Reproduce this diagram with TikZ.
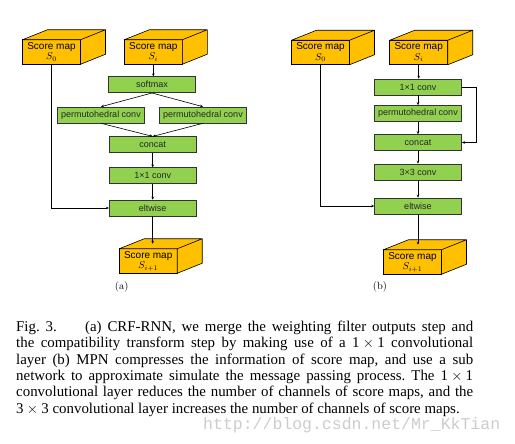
\documentclass[tikz,border=0pt]{standalone}
\usepackage{fontspec}
\setsansfont{Liberation Sans}
\newfontfamily\capfont{Liberation Serif}
\newfontfamily\markfont{Liberation Mono}
\usepackage{tikz}
\usetikzlibrary{arrows.meta}
\definecolor{mapfill}{HTML}{FFC000}
\definecolor{layerfill}{HTML}{92D050}
\newcommand{\scoremap}[3]{%
  \node[smap] (#1) at (#2) {Score map\\$S_{#3}$};
  \draw[mapface] (#1.north west) -- ++(25,-10) -- ++(58,0) -- ++(0,24.5)
    -- (#1.south east) -- (#1.north east) -- cycle (#1.north east) -- ++(25,-10);
  \path (#1.north) ++(12.5,-5) coordinate (#1-top);
}
\newcommand{\tms}{\hspace{0.22em}$\times$\hspace{0.22em}}

\begin{document}
\begin{tikzpicture}[x=1pt,y=-1pt,font=\sffamily\fontsize{9}{10}\selectfont]
  \tikzstyle{layer}=[draw=black!80,line width=0.6pt,fill=layerfill,minimum width=87pt,
    minimum height=16pt,inner sep=0pt,text=black!85]
  \tikzstyle{smap}=[draw=black,line width=0.6pt,fill=mapfill,minimum width=58pt,
    minimum height=24.5pt,inner sep=0pt,outer sep=0pt,align=center,
    font=\sffamily\fontsize{10}{10.5}\selectfont]
  \tikzstyle{mapface}=[draw=black,fill=mapfill,line width=0.6pt,line join=round]
  \tikzstyle{flow}=[-{Stealth[length=3pt,width=2.6pt]},line width=0.6pt]
  \tikzstyle{sub}=[font=\rmfamily\fontsize{10.5}{12}\selectfont]
  \useasboundingbox (0,0) rectangle (515,444);

  % (a) CRF-RNN
  \scoremap{sa0}{51.5,52}{0}
  \scoremap{sai}{153.3,52}{i}
  \node[layer] (soft) at (152,84.7) {softmax};
  \node[layer] (permA) at (101,115) {permutohedral conv};
  \node[layer] (permB) at (203,115) {permutohedral conv};
  \node[layer] (catA) at (152.7,144.7) {concat};
  \node[layer] (convA) at (152.7,175.8) {1\texttimes1 conv};
  \node[layer] (eltA) at (152.7,208) {eltwise};
  \scoremap{san}{148.2,261}{i+1}
  \node[sub] (laba) at (121.7,287) {(a)};
  \draw[flow] (sai.south) -- (sai.south |- soft.north);
  \draw[flow] (soft.south) -- (permA.north);
  \draw[flow] (soft.south) -- (permB.north);
  \draw[flow] (permA.south) -- (catA.north);
  \draw[flow] (permB.south) -- (catA.north);
  \draw[flow] (catA) -- (convA);
  \draw[flow] (convA) -- (eltA);
  \draw[flow] (sa0.south) |- (eltA.west);
  \draw[flow] (eltA.south) -- (eltA.south |- san-top);

  % (b) MPN
  \scoremap{sb0}{320.5,52.5}{0}
  \scoremap{sbi}{418.7,52.5}{i}
  \node[layer] (convB) at (418,87) {1\texttimes1 conv};
  \node[layer] (permC) at (418,113.5) {permutohedral conv};
  \node[layer] (catB) at (418,142.5) {concat};
  \node[layer] (conv3) at (418,172) {3\texttimes3 conv};
  \node[layer] (eltB) at (418,206) {eltwise};
  \scoremap{sbn}{412.5,262}{i+1}
  \node[sub] (labb) at (380,287) {(b)};
  \draw[flow] (sbi.south) -- (sbi.south |- convB.north);
  \draw[flow] (convB) -- (permC);
  \draw[flow] (permC) -- (catB);
  \draw[flow] (catB) -- (conv3);
  \draw[flow] (conv3) -- (eltB);
  \draw[flow] (convB.east) -- ++(14,0) |- (catB.east);
  \draw[flow] (sb0.south) |- (eltB.west);
  \draw[flow] (eltB.south) -- (eltB.south |- sbn-top);

  % caption and watermark
  \node[anchor=north west,inner sep=0pt,text width=457pt,align=justify,
    font=\capfont\fontsize{14.9}{16.3}\selectfont\frenchspacing] (cap) at (16,321)
    {Fig. 3.\hspace{1.9em}(a) CRF-RNN, we merge the weighting filter outputs step and\linebreak
     the compatibility transform step by making use of a 1\tms1 convolutional\linebreak
     layer (b) MPN compresses the information of score map, and use a sub\linebreak
     network to approximate simulate the message passing process. The 1\tms1\linebreak
     convolutional layer reduces the number of channels of score maps, and the\linebreak
     3\tms3 convolutional layer increases the number of channels of score maps.};
  \node[anchor=base west,inner sep=0pt,text=black!20,
    font=\markfont\fontsize{16.5}{18}\selectfont] (mark) at (203,429)
    {http://blog.csdn.net/Mr\_KkTian};
\end{tikzpicture}
\end{document}
